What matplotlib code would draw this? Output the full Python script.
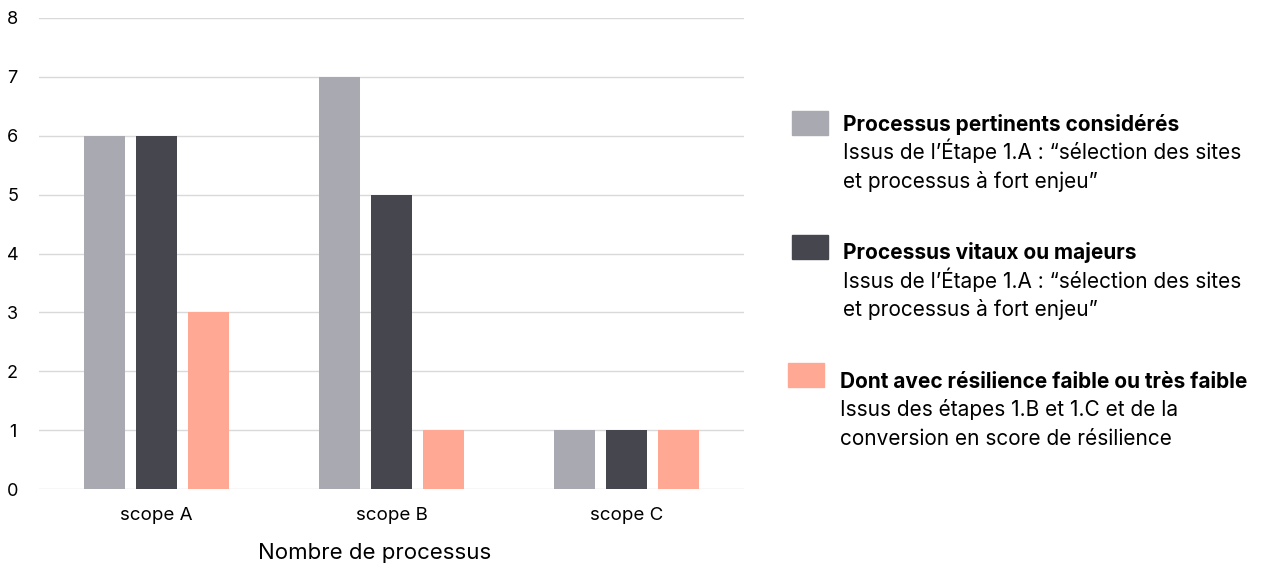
import matplotlib.pyplot as plt
from matplotlib.patches import Rectangle
import numpy as np

plt.rcParams['font.family'] = ['Inter', 'DejaVu Sans']

scopes = ["scope A", "scope B", "scope C"]
pertinents = [6, 7, 1]
vitaux = [6, 5, 1]
faible = [3, 1, 1]

colors = ["#A9A9B1", "#46464F", "#FFA995"]
titles = ["Processus pertinents considérés",
          "Processus vitaux ou majeurs",
          "Dont avec résilience faible ou très faible"]
subtitles = [["Issus de l\u2019Étape 1.A : \u201csélection des sites", "et processus à fort enjeu\u201d"],
             ["Issus de l\u2019Étape 1.A : \u201csélection des sites", "et processus à fort enjeu\u201d"],
             ["Issus des étapes 1.B et 1.C et de la", "conversion en score de résilience"]]

W, H = 1287, 568
fig = plt.figure(figsize=(W / 100, H / 100), dpi=100)
ax = fig.add_axes([39 / W, 1 - 489 / H, (744 - 39) / W, (489 - 18) / H])

x = np.arange(len(scopes))
bw = 0.1745
step = 0.221
for i, vals in enumerate([pertinents, vitaux, faible]):
    ax.bar(x + (i - 1) * step, vals, width=bw, color=colors[i], zorder=3)

ax.set_xlim(-0.5, 2.5)
ax.set_ylim(0, 8)
ax.set_yticks(range(9))
ax.set_xticks(x)
ax.set_xticklabels(scopes, fontsize=13.5)
ax.tick_params(axis='y', length=0, pad=19, labelsize=13)
ax.tick_params(axis='x', length=0, pad=13)
for lbl in ax.get_yticklabels():
    lbl.set_horizontalalignment('center')
ax.grid(axis='y', color='#D9D9D9', linewidth=1, zorder=0)
for s in ax.spines.values():
    s.set_visible(False)
ax.set_xlabel("Nombre de processus", fontsize=16, labelpad=12)
ax.xaxis.set_label_coords((375 - 39) / 705, -0.115)

# custom legend: patch (x, top), text x, title baseline
leg = [(792, 111, 843, 131), (792, 235, 843, 259), (788, 363, 840, 388)]
for (px, py, tx, by), c, t, st in zip(leg, colors, titles, subtitles):
    fig.patches.append(Rectangle((px / W, 1 - (py + 24) / H), 36 / W, 24 / H,
                                 color=c, transform=fig.transFigure))
    fig.text(tx / W, 1 - by / H, t, fontsize=15, fontweight='bold',
             va='baseline', ha='left')
    for k, line in enumerate(st):
        fig.text(tx / W, 1 - (by + 28.5 * (k + 1)) / H, line, fontsize=15,
                 va='baseline', ha='left')

fig.savefig("out.png", dpi=100)
